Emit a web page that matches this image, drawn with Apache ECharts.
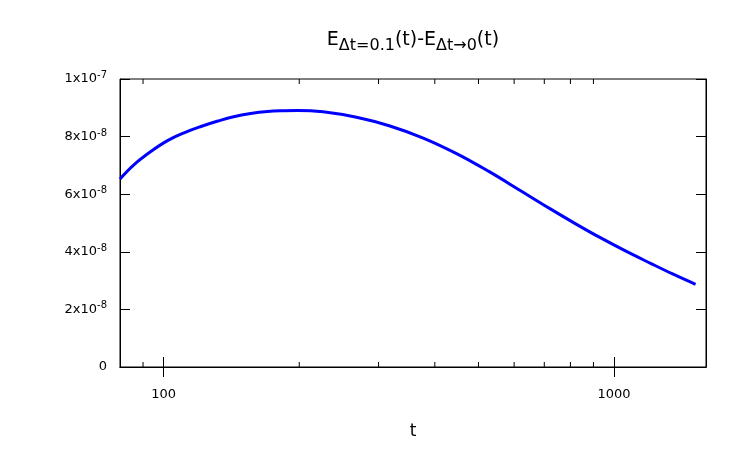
<!DOCTYPE html>
<html>
<head>
<meta charset="utf-8">
<script src="https://cdn.jsdelivr.net/npm/echarts@6/dist/echarts.min.js"></script>
<style>
  html, body { margin: 0; padding: 0; background: #fff; }
  #main { width: 747px; height: 449px; }
</style>
</head>
<body>
<div id="main"></div>
<script>
// t values and E(dt=0.1) - E(dt->0)
const tValues = [80, 86, 94, 102, 111, 121, 132, 143, 156, 170, 185, 198, 226, 268, 318, 377, 447, 526, 619, 722, 820, 932, 1060, 1205, 1349, 1517];
const diffValues = [
    6.53e-8, 7.03e-8, 7.50e-8, 7.86e-8, 8.13e-8, 8.35e-8, 8.54e-8, 8.69e-8, 8.80e-8, 8.87e-8,
    8.90e-8, 8.91e-8, 8.86e-8, 8.67e-8, 8.37e-8, 7.95e-8, 7.41e-8, 6.80e-8, 6.13e-8, 5.49e-8,
    4.98e-8, 4.49e-8, 4.03e-8, 3.60e-8, 3.23e-8, 2.87e-8
];
const majorTicks = [100, 1000];
const minorTicks = [90, 200, 300, 400, 500, 600, 700, 800, 900];
const xMin = 80, xMax = 1600;
const yMin = 0, yMax = 1e-7, yStep = 2e-8;

const FONT = 'DejaVu Sans';

var chart = echarts.init(document.getElementById('main'));

const yLabel = (v) => {
    var n = Math.round(v / 1e-8);
    if (n === 0) return '{a|0}';
    if (n === 10) return '{a|1x10}{b|-7}';
    return '{a|' + n + 'x10}{b|-8}';
};

const tickStyle = { color: '#000', width: 1 };

var option = {
    animation: false,
    title: {
        text: '{e|E}{s|Δt=0.1}{e|(t)-E}{s|Δt→0}{e|(t)}',
        left: 413,
        top: 26,
        padding: 0,
        textAlign: 'center',
        textStyle: {
            fontWeight: 'normal',
            rich: {
                e: { fontFamily: FONT, fontSize: 19, fontWeight: 'normal', color: '#000', lineHeight: 28 },
                s: { fontFamily: FONT, fontSize: 16, fontWeight: 'normal', color: '#000', lineHeight: 13, verticalAlign: 'bottom' }
            }
        }
    },
    grid: {
        left: 120, right: 41, top: 79, bottom: 82,
        show: true, borderColor: '#000', borderWidth: 1
    },
    xAxis: [
        {
            type: 'log',
            min: xMin, max: xMax,
            name: 't',
            nameLocation: 'middle',
            nameGap: 56,
            nameTextStyle: { fontFamily: FONT, fontSize: 17, color: '#000' },
            axisLine: { lineStyle: { color: '#000', width: 1 } },
            axisTick: { inside: true, length: 10, lineStyle: tickStyle, customValues: majorTicks },
            axisLabel: {
                fontFamily: FONT, fontSize: 13, color: '#000', margin: 21,
                customValues: majorTicks,
                formatter: (v) => String(Math.round(v))
            },
            splitLine: { show: false }
        },
        {
            type: 'log',
            position: 'top',
            min: xMin, max: xMax,
            axisLine: { lineStyle: { color: '#000', width: 1 } },
            axisTick: { inside: true, length: 10, lineStyle: tickStyle, customValues: majorTicks },
            axisLabel: { show: false },
            splitLine: { show: false }
        }
    ],
    yAxis: [
        {
            type: 'value',
            min: yMin, max: yMax, interval: yStep,
            axisLine: { show: true, lineStyle: { color: '#000', width: 1 } },
            axisTick: { show: true, inside: true, length: 10, lineStyle: tickStyle },
            axisLabel: {
                margin: 13,
                formatter: yLabel,
                rich: {
                    a: { fontFamily: FONT, fontSize: 13, color: '#000', lineHeight: 17 },
                    b: { fontFamily: FONT, fontSize: 10, color: '#000', lineHeight: 10, verticalAlign: 'top' }
                }
            },
            splitLine: { show: false }
        },
        {
            type: 'value',
            position: 'right',
            min: yMin, max: yMax, interval: yStep,
            axisLine: { show: true, lineStyle: { color: '#000', width: 1 } },
            axisTick: { show: true, inside: true, length: 10, lineStyle: tickStyle },
            axisLabel: { show: false },
            splitLine: { show: false }
        }
    ],
    series: [
        {
            type: 'line',
            data: tValues.map((t, i) => [t, diffValues[i]]),
            smooth: 0.4,
            symbol: 'none',
            lineStyle: { color: '#0000ff', width: 3 }
        },
        {
            // log-axis minor ticks (2..9 per decade), bottom and top
            type: 'custom',
            data: minorTicks.map((t) => [t]),
            encode: { x: 0 },
            silent: true,
            clip: false,
            renderItem: (params, api) => {
                var b = api.coord([api.value(0), yMin]);
                var t = api.coord([api.value(0), yMax]);
                return {
                    type: 'group',
                    children: [
                        { type: 'line', shape: { x1: b[0], y1: b[1], x2: b[0], y2: b[1] - 5 }, style: { stroke: '#000', lineWidth: 1 } },
                        { type: 'line', shape: { x1: t[0], y1: t[1], x2: t[0], y2: t[1] + 5 }, style: { stroke: '#000', lineWidth: 1 } }
                    ]
                };
            }
        }
    ]
};

chart.setOption(option);
</script>
</body>
</html>
